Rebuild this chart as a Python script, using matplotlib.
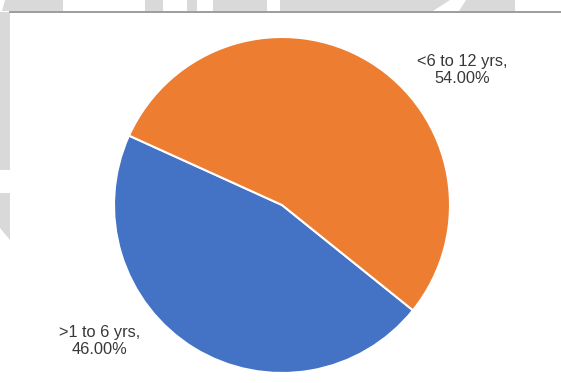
import matplotlib.pyplot as plt
from matplotlib.patches import Rectangle, Polygon

plt.rcParams['font.family'] = ['Liberation Sans', 'DejaVu Sans']

# age groups and their shares (%)
labels = ['>1 to 6 yrs', '<6 to 12 yrs']
shares = [46.0, 54.0]
colors = ['#4472C4', '#ED7D31']

W, H = 561, 383
fig = plt.figure(figsize=(W / 100, H / 100), dpi=100)
ax = fig.add_axes([0, 0, 1, 1])


def img_y(y):
    # pixel row (from top) -> data y
    return H - y


# faint grey banner across the top and down the left side
grey = '#d9d9d9'
ax.add_patch(Rectangle((0, img_y(11)), W, 11, color=grey, lw=0, zorder=0))
for x0, x1 in [(63, 145), (163, 187), (197, 213), (267, 280), (515, W)]:
    ax.add_patch(Rectangle((x0, img_y(11)), x1 - x0, 11, color='white', lw=0, zorder=0.5))
ax.add_patch(Polygon([(433, img_y(11)), (450, img_y(0)), (466, img_y(0)), (459, img_y(11))],
                     color='white', lw=0, zorder=0.5))
ax.add_patch(Polygon([(0, img_y(0)), (5, img_y(0)), (2, img_y(11)), (0, img_y(11))],
                     color='white', lw=0, zorder=0.5))
ax.add_patch(Rectangle((0, img_y(170)), 10, 158, color=grey, lw=0, zorder=0))
ax.add_patch(Polygon([(0, img_y(193)), (10, img_y(193)), (10, img_y(240)), (0, img_y(228))],
                     color=grey, lw=0, zorder=0))
ax.plot([10, W], [img_y(11.5), img_y(11.5)], color='#8c8c8c', lw=1.2, zorder=1)

# pie
cx, cy, r = 282, img_y(205), 168
wedges, _ = ax.pie(shares, colors=colors, startangle=155.6, counterclock=True,
                   center=(cx, cy), radius=r, frame=True,
                   wedgeprops=dict(edgecolor='white', linewidth=1.5))
ax.set_xlim(0, W)
ax.set_ylim(0, H)
ax.axis('off')

label_pos = [(100, 341), (462, 70)]
for lab, val, (x, y) in zip(labels, shares, label_pos):
    ax.text(x, img_y(y), f'{lab},\n{val:.2f}%', ha='center', va='center',
            fontsize=11.8, color='#383838', linespacing=1.15)

fig.savefig('out.png', dpi=100)
